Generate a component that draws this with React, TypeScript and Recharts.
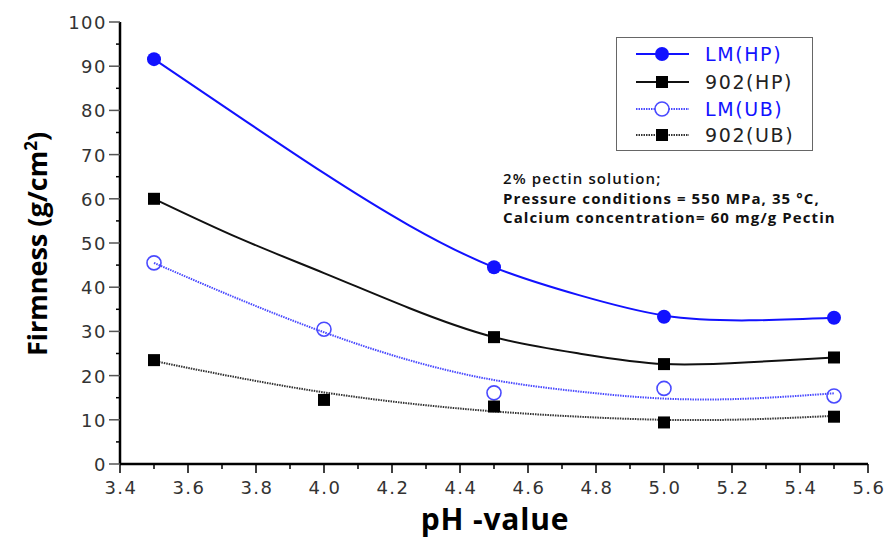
import React from 'react';
import { ComposedChart, Line, Scatter, XAxis, YAxis, Legend } from 'recharts';

// fitted curves at 0.25 pH steps
const phFit = [3.5, 3.75, 4.0, 4.25, 4.5, 4.75, 5.0, 5.25, 5.5];
const lmHpFit = [91.6, 78.6, 65.8, 54.0, 44.5, 38.2, 33.6, 32.5, 33.1];
const hp902Fit = [60, 51.1, 43.2, 35.3, 28.7, 25.0, 22.6, 23.0, 24.1];
const lmUbFit = [45.5, 37.3, 29.8, 23.5, 19.0, 16.4, 14.8, 14.8, 16.0];
const ub902Fit = [23.3, 19.5, 16.2, 13.7, 11.9, 10.7, 10.0, 10.1, 10.9];

// measured points
const phHp = [3.5, 4.5, 5.0, 5.5];
const lmHp = [91.6, 44.5, 33.3, 33.1];
const hp902 = [60, 28.7, 22.6, 24.1];
const phUb = [3.5, 4.0, 4.5, 5.0, 5.5];
const lmUb = [45.5, 30.5, 16.1, 17.1, 15.4];
const ub902 = [23.5, 14.5, 13.0, 9.4, 10.7];

const xTicks = [3.4, 3.5, 3.6, 3.7, 3.8, 3.9, 4.0, 4.1, 4.2, 4.3, 4.4, 4.5, 4.6, 4.7, 4.8, 4.9, 5.0, 5.1, 5.2, 5.3, 5.4, 5.5, 5.6];
const yTicks = [0, 5, 10, 15, 20, 25, 30, 35, 40, 45, 50, 55, 60, 65, 70, 75, 80, 85, 90, 95, 100];

const legendNames = ['LM(HP)', '902(HP)', 'LM(UB)', '902(UB)'];
const noteLines = ['2% pectin solution;', 'Pressure conditions = 550 MPa, 35 °C,', 'Calcium concentration= 60 mg/g Pectin'];

const BLUE = '#1212ff';
const LIGHTBLUE = '#4a4aff';
const BLACK = '#111';

const pts = (xs: number[], ys: number[]) => xs.map((x, i) => ({ x, y: ys[i] }));

const tickFont = { fontFamily: '"DejaVu Sans", sans-serif', fontSize: 18, fill: '#333', letterSpacing: 1.5 };

const XTick = (props: any) => {
  const { x, y, payload } = props;
  const v = payload.value as number;
  const major = Math.round(v * 10) % 2 === 0;
  return (
    <g>
      <line x1={x} y1={y} x2={x} y2={y + (major ? 9 : 5)} stroke="#000" strokeWidth={1.5} />
      {major && (
        <text x={x + 1} y={y + 30} textAnchor="middle" {...tickFont}>
          {v.toFixed(1)}
        </text>
      )}
    </g>
  );
};

const YTick = (props: any) => {
  const { x, y, payload } = props;
  const v = payload.value as number;
  const major = v % 10 === 0;
  return (
    <g>
      <line x1={x - (major ? 11 : 4)} y1={y} x2={x} y2={y} stroke={major ? '#555' : '#000'} strokeWidth={1.5} />
      {major && (
        <text x={x - 13} y={y + 7} textAnchor="end" {...tickFont}>
          {v}
        </text>
      )}
    </g>
  );
};

const dotCircle = (p: any) => <circle cx={p.cx} cy={p.cy} r={7} fill={BLUE} />;
const dotOpen = (p: any) => <circle cx={p.cx} cy={p.cy} r={7} fill="none" stroke={LIGHTBLUE} strokeWidth={1.6} />;
const dotSquare = (p: any) => <rect x={p.cx - 6} y={p.cy - 6} width={12} height={12} fill="#000" />;

const LegendBox = () => {
  const rows = [
    { color: BLUE, dash: undefined, mark: 'filled' },
    { color: BLACK, dash: undefined, mark: 'square' },
    { color: LIGHTBLUE, dash: '1.5 1', mark: 'open' },
    { color: '#333', dash: '1.5 1', mark: 'square' },
  ];
  const rowY = [16, 44, 71, 97];
  return (
    <div style={{ width: 197, height: 114, border: '1.5px solid #666', boxSizing: 'border-box', background: '#fff' }}>
      <svg width={194} height={111}>
        {rows.map((r, i) => (
          <g key={i}>
            <line x1={19} x2={72} y1={rowY[i]} y2={rowY[i]} stroke={r.color} strokeWidth={2} strokeDasharray={r.dash} />
            {r.mark === 'filled' && <circle cx={45} cy={rowY[i]} r={7} fill={BLUE} />}
            {r.mark === 'open' && <circle cx={45} cy={rowY[i]} r={7} fill="#fff" stroke={LIGHTBLUE} strokeWidth={1.6} />}
            {r.mark === 'square' && <rect x={39} y={rowY[i] - 6} width={12} height={12} fill="#000" />}
            <text
              x={88}
              y={rowY[i] + 7}
              fontFamily='"DejaVu Sans", sans-serif'
              fontSize={19}
              letterSpacing={1.6}
              fill={i % 2 === 0 ? BLUE : '#222'}
            >
              {legendNames[i]}
            </text>
          </g>
        ))}
      </svg>
    </div>
  );
};

export default function App() {
  return (
    <div style={{ position: 'absolute', left: 0, top: 0, width: 885, height: 538, background: '#fff' }}>
      <ComposedChart width={885} height={538} margin={{ top: 22, right: 17, bottom: 34, left: 60 }}>
        <XAxis
          type="number"
          dataKey="x"
          domain={[3.4, 5.6]}
          ticks={xTicks}
          interval={0}
          height={40}
          tickSize={0}
          tickMargin={0}
          tickLine={false}
          axisLine={{ stroke: '#000', strokeWidth: 2.5 }}
          tick={<XTick />}
        />
        <YAxis
          type="number"
          domain={[0, 100]}
          ticks={yTicks}
          interval={0}
          width={60}
          tickSize={0}
          tickMargin={0}
          tickLine={false}
          axisLine={{ stroke: '#000', strokeWidth: 2.5 }}
          tick={<YTick />}
        />
        <Legend
          verticalAlign="middle"
          align="center"
          content={() => <LegendBox />}
          wrapperStyle={{ left: 616, top: 37, width: 197, height: 114 }}
        />
        <Line data={pts(phFit, lmHpFit)} dataKey="y" type="natural" stroke={BLUE} strokeWidth={2} dot={false} isAnimationActive={false} />
        <Line data={pts(phFit, hp902Fit)} dataKey="y" type="natural" stroke={BLACK} strokeWidth={2} dot={false} isAnimationActive={false} />
        <Line data={pts(phFit, lmUbFit)} dataKey="y" type="natural" stroke={LIGHTBLUE} strokeWidth={2} strokeDasharray="1.5 1" dot={false} isAnimationActive={false} />
        <Line data={pts(phFit, ub902Fit)} dataKey="y" type="natural" stroke="#333" strokeWidth={2} strokeDasharray="1.5 1" dot={false} isAnimationActive={false} />
        <Scatter data={pts(phHp, lmHp)} dataKey="y" shape={dotCircle} isAnimationActive={false} />
        <Scatter data={pts(phHp, hp902)} dataKey="y" shape={dotSquare} isAnimationActive={false} />
        <Scatter data={pts(phUb, lmUb)} dataKey="y" shape={dotOpen} isAnimationActive={false} />
        <Scatter data={pts(phUb, ub902)} dataKey="y" shape={dotSquare} isAnimationActive={false} />
      </ComposedChart>
      <svg width={885} height={538} style={{ position: 'absolute', left: 0, top: 0, pointerEvents: 'none' }}>
        <text
          transform="translate(47,244) rotate(-90)"
          textAnchor="middle"
          fontFamily='"Open Sans", sans-serif'
          fontWeight={700}
          fontSize={27}
          fill="#000"
        >
          Firmness (g/cm<tspan dy={-10} fontSize={17}>2</tspan><tspan dy={10}>)</tspan>
        </text>
        <text x={495} y={530} textAnchor="middle" fontFamily='"Open Sans", sans-serif' fontWeight={700} fontSize={30} letterSpacing={0.8} fill="#000">
          pH -value
        </text>
        {noteLines.map((t, i) => (
          <text key={i} x={503} y={184 + i * 19.5} fontFamily='"Open Sans", sans-serif' fontWeight={i === 0 ? 600 : 700} fontSize={15} letterSpacing={1.1} fill="#111">
            {t}
          </text>
        ))}
      </svg>
    </div>
  );
}
